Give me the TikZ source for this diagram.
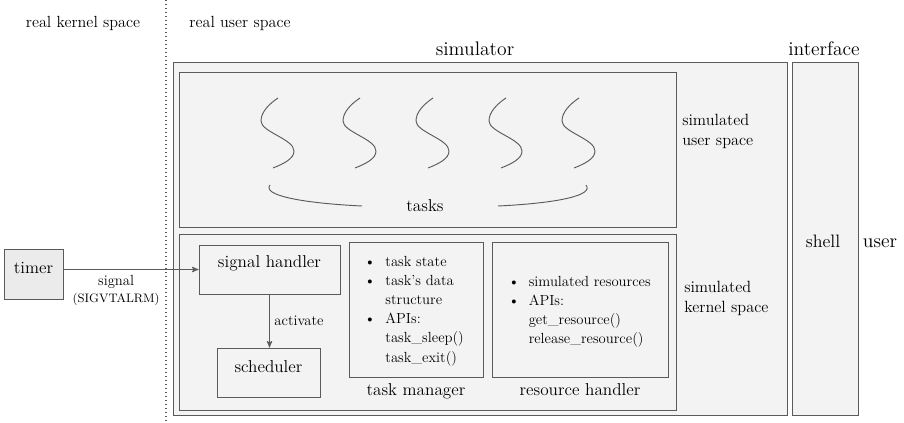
\documentclass[tikz,border=0pt]{standalone}
\usepackage{fontspec}
\usetikzlibrary{arrows,fit}
\definecolor{boxfill}{HTML}{F3F3F3}
\definecolor{timerfill}{HTML}{EBEBEB}
\definecolor{boxline}{HTML}{5A5A5A}

\begin{document}
\begin{tikzpicture}[x=0.75pt,y=-0.75pt,>=stealth',
                    box/.style={draw=boxline,fill=boxfill,inner sep=0pt,line width=0.75pt},
                    lbl/.style={anchor=base,inner sep=0pt}]
  \useasboundingbox (0,0) rectangle (904,422);
  \tikzstyle{big}=[font=\fontsize{14.7}{18}\selectfont]
  \tikzstyle{mid}=[font=\fontsize{12.9}{16}\selectfont]
  \tikzstyle{small}=[font=\fontsize{11}{14.4}\selectfont]

  \draw[boxline,dotted,line width=1pt] (166,0) -- (166,422);

  \node[lbl,font=\fontsize{12.1}{15}\selectfont] (rks) at (83,27)  {real kernel space};
  \node[lbl,font=\fontsize{12.1}{15}\selectfont] (rus) at (240,27) {real user space};
  \node[lbl,big] (simlbl) at (475,55) {simulator};
  \node[lbl,big] (iflbl)  at (824,55) {interface};

  \node[box,fit={(173,62) (787,415)}]  (sim)   {};
  \node[box,fit={(792,62) (858,415)}]  (iface) {};
  \node[box,fit={(179,72) (676,227)}]  (usp)   {};
  \node[box,fit={(179,234) (676,410)}] (ksp)   {};

  \foreach \x in {261,343,416,489,562}
    \draw[boxline,line width=0.7pt,shift={(\x,0)}]
      (17,98) .. controls (8,104) and (0,112) .. (0,121)
              .. controls (0,132) and (33,139) .. (33,151)
              .. controls (33,159) and (22,164) .. (12,168);
  \draw[boxline,line width=0.7pt] (270,185) .. controls (262,195) and (300,203) .. (362,206);
  \draw[boxline,line width=0.7pt] (498,206) .. controls (560,203) and (594,195) .. (586,185);
  \node[lbl,mid] (tasks) at (425,211) {tasks};

  \node[lbl,font=\fontsize{12.2}{15}\selectfont,align=left,anchor=base west] (usplbl) at (682,145)
    {simulated\\user space};
  \node[lbl,font=\fontsize{12.2}{15}\selectfont,align=left,anchor=base west] (ksplbl) at (684,312)
    {simulated\\kernel space};

  \node[box,fill=timerfill,fit={(4,249) (63,299)},mid] (timer) {timer};
  \node[box,fit={(199,245) (340,294)},mid]             (sh)    {signal handler};
  \node[box,fit={(217,348) (320,397)},mid]             (sched) {scheduler};
  \node[box,fit={(349,242) (483,377)}]                 (tm)    {};
  \node[box,fit={(492,242) (668,377)}]                 (rh)    {};

  \node[lbl,small,anchor=base west] (tmlist) at (364,266)
    {\begin{tabular}[t]{@{}l@{\hspace{7.5pt}}l@{}}
       \textbullet & task state\\
       \textbullet & task's data\\
                   & structure\\
       \textbullet & APIs:\\
                   & task\_sleep()\\
                   & task\_exit()
     \end{tabular}};
  \node[lbl,small,anchor=base west] (rhlist) at (508,286)
    {\begin{tabular}[t]{@{}l@{\hspace{7pt}}l@{}}
       \textbullet & simulated resources\\
       \textbullet & APIs:\\
                   & get\_resource()\\
                   & release\_resource()
     \end{tabular}};
  \node[lbl,mid] (tmlbl) at (416,395) {task manager};
  \node[lbl,mid] (rhlbl) at (580,395) {resource handler};

  \node[lbl,font=\fontsize{13.5}{17}\selectfont] (shell) at (823,247) {shell};
  \node[lbl,big] (user) at (880,247) {user};

  \draw[->,boxline,line width=0.75pt] (timer.east |- sh.west) -- (sh.west)
    node[pos=0.39,below=1pt,align=center,small,text=black] {signal\\[-2pt]{\fontsize{9.2}{11}\selectfont(SIGVTALRM)}};
  \draw[->,boxline,line width=0.75pt] (sh.south) -- (sh.south |- sched.north)
    node[midway,right,small,text=black] {activate};
\end{tikzpicture}
\end{document}
